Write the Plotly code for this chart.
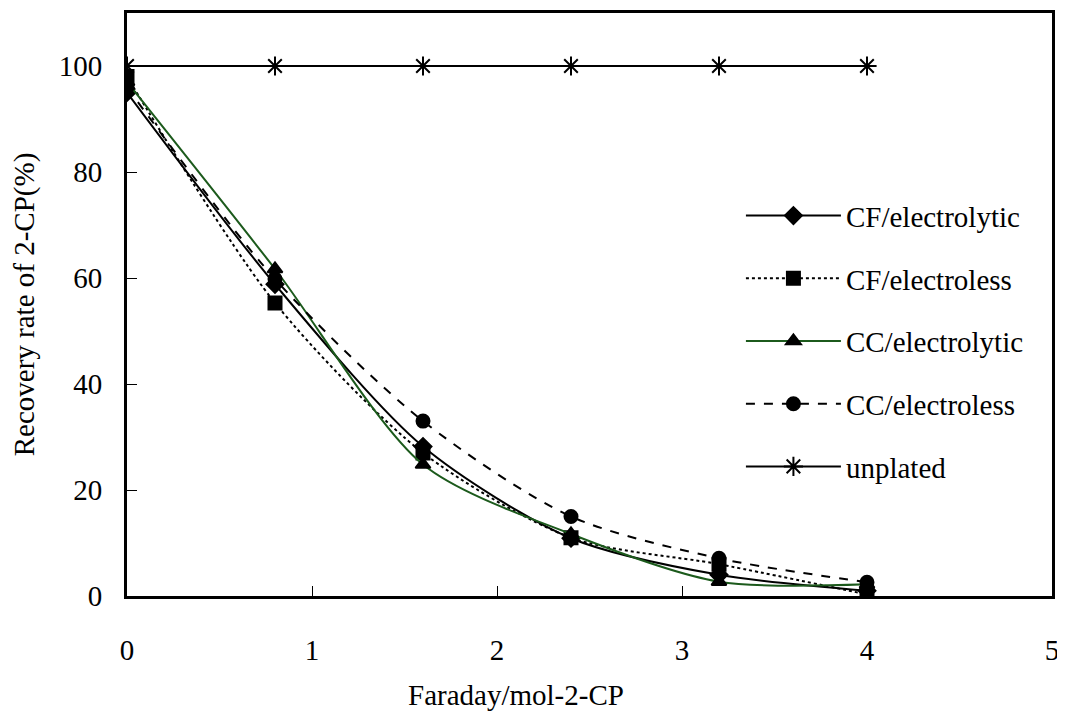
import plotly.graph_objects as go

faraday = [0, 0.8, 1.6, 2.4, 3.2, 4.0]

cf_electrolytic = [95, 58.8, 28.2, 10.9, 4.0, 1.0]
cf_electroless = [98, 55.3, 27.0, 11.0, 6.0, 0.3]
cc_electrolytic = [97, 61.7, 24.8, 11.7, 2.7, 2.2]
cc_electroless = [96, 59.8, 33.0, 15.0, 7.1, 2.6]
unplated = [100, 100, 100, 100, 100, 100]

x_ticks = [0, 1, 2, 3, 4, 5]
y_ticks = [0, 20, 40, 60, 80, 100]

FONT = "Liberation Serif"
GREEN = "#1c5a1c"

series = [
    ("CF/electrolytic", cf_electrolytic, "black", "solid", "diamond", "spline", 13),
    ("CF/electroless", cf_electroless, "black", "dot", "square", "spline", 13),
    ("CC/electrolytic", cc_electrolytic, GREEN, "solid", "triangle-up", "spline", 13),
    ("CC/electroless", cc_electroless, "black", "dash", "circle", "spline", 13),
    ("unplated", unplated, "black", "solid", "asterisk-open", "linear", 16),
]

traces = []
for name, values, color, dash, symbol, shape, msize in series:
    trace = go.Scatter(
        x=faraday,
        y=values,
        name=name,
        legendgroup=name,
        mode="lines+markers",
        line={"color": color, "width": 2, "dash": dash, "shape": shape, "smoothing": 0.8},
        marker={
            "symbol": symbol,
            "size": msize,
            "color": "black",
            "line": {"color": "black", "width": 2},
        },
    )
    traces.append(trace)

# the page body adds 8px, so the figure is made 8px smaller on each side
layout = go.Layout(
    width=1057,
    height=717,
    margin={"l": 119, "r": 13, "t": 2, "b": 129},
    paper_bgcolor="white",
    plot_bgcolor="white",
    font={"family": FONT, "size": 29, "color": "black"},
    xaxis={
        "range": [0, 5],
        "tickvals": x_ticks,
        "ticks": "inside",
        "ticklen": 10,
        "tickwidth": 1,
        "tickcolor": "black",
        "tickfont": {"family": FONT, "size": 29},
        "showgrid": False,
        "zeroline": False,
        "showline": True,
        "linecolor": "black",
        "linewidth": 3,
        "mirror": True,
        "ticklabelstandoff": 26,
    },
    yaxis={
        "range": [0, 110],
        "tickvals": y_ticks,
        "ticks": "inside",
        "ticklen": 10,
        "tickwidth": 1,
        "tickcolor": "black",
        "tickfont": {"family": FONT, "size": 29},
        "showgrid": False,
        "zeroline": False,
        "showline": True,
        "linecolor": "black",
        "linewidth": 3,
        "mirror": True,
        "ticklabelstandoff": 16,
        "title": {"text": "Recovery rate of 2-CP(%)", "standoff": 19, "font": {"family": FONT, "size": 29}},
    },
    legend={
        "x": 0.6637,
        "y": 0.696,
        "xanchor": "left",
        "yanchor": "top",
        "bgcolor": "rgba(0,0,0,0)",
        "itemwidth": 95,
        "tracegroupgap": 22,
        "font": {"family": FONT, "size": 29},
    },
    # x title sits left of the plot centre in the original
    annotations=[
        {
            "text": "Faraday/mol-2-CP",
            "xref": "paper",
            "yref": "paper",
            "x": 0.4205,
            "y": -0.169,
            "xanchor": "center",
            "yanchor": "middle",
            "showarrow": False,
            "font": {"family": FONT, "size": 29},
        }
    ],
)

fig = go.Figure(data=traces, layout=layout)
fig.write_html("out.html")
